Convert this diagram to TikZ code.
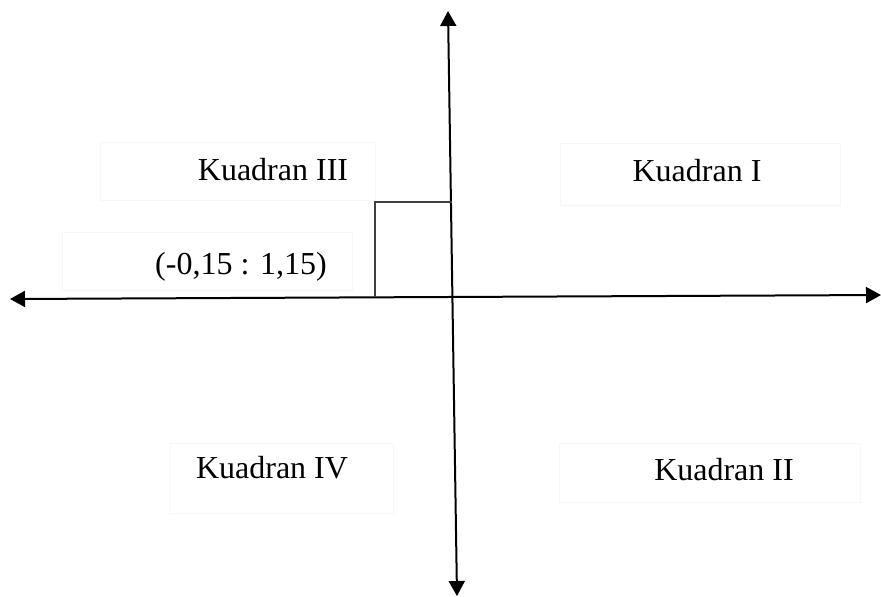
\documentclass[tikz,border=0pt]{standalone}
\usepackage{fontspec}
\setmainfont{Liberation Serif}
\usetikzlibrary{positioning,arrows.meta,calc}

\begin{document}
\begin{tikzpicture}[x=0.5pt, y=-0.5pt, font=\fontsize{16}{19}\selectfont,
  axis/.style={line width=1pt, {Triangle[length=7.5pt,width=8pt]}-{Triangle[length=7.5pt,width=8pt]}},
  frame/.style={draw=black!3, line width=0.5pt},
  label/.style={inner sep=0pt, anchor=base}]
  \newcommand\drawframe[2]{
    \draw[frame] (#1) rectangle (#2);
  }
  \useasboundingbox (0,0) rectangle (881,596);

  % axis ends
  \node[coordinate] (xl) at (10,299) {};
  \node[coordinate] (xr) at (881,295) {};
  \node[coordinate] (yt) at (448,11) {};
  \node[coordinate] (yb) at (457,596) {};
  \coordinate (o) at (intersection of xl--xr and yt--yb);
  \node[coordinate] (sq) at (375,202) {};

  % faint text frames
  \drawframe{100,142}{375,200}
  \drawframe{62,232}{352,290}
  \drawframe{560,143}{840,205}
  \drawframe{170,443}{393,513}
  \drawframe{559,443}{860,502}
%
  \draw[axis] (xl) -- (xr);
  \draw[axis] (yb) -- (yt);
  \draw[line width=0.7pt, black!75] (o -| sq) -- (sq) -- (sq -| o);
%
  \node[label] (q3) at (273,180) {Kuadran III};
  \node[label] (pt) at (241,274) {(-0,15 : 1,15)};
  \node[label] (q1) at (697,181) {Kuadran I};
  \node[label] (q4) at (272,478) {Kuadran IV};
  \node[label] (q2) at (724,480) {Kuadran II};
\end{tikzpicture}
\end{document}
